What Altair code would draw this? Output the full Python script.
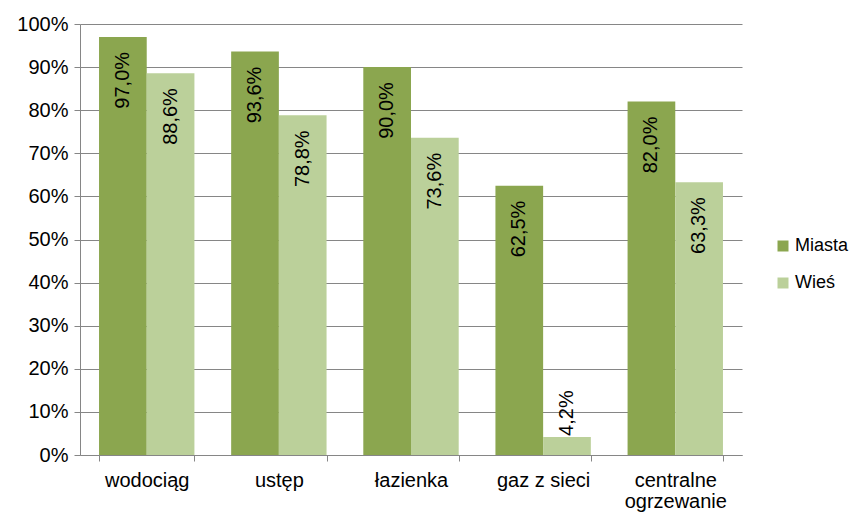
import altair as alt
import pandas as pd

categories = ["wodociąg", "ustęp", "łazienka", "gaz z sieci", "centralne ogrzewanie"]
miasta = [97.0, 93.6, 90.0, 62.5, 82.0]
wies = [88.6, 78.8, 73.6, 4.2, 63.3]
series = ["Miasta", "Wieś"]
colors = ["#8BA64F", "#BBD09A"]

rows = []
for c, m, w in zip(categories, miasta, wies):
    for s, v in zip(series, [m, w]):
        rows.append({"kat": c, "seria": s, "v": v / 100,
                     "lbl": f"{v:.1f}%".replace(".", ","),
                     "inside": v > 10})
df = pd.DataFrame(rows)

FONT = "Liberation Sans"
FS = 20
W, H = 662, 431

x = alt.X("kat:N", sort=categories, title=None,
          scale=alt.Scale(paddingInner=0.278, paddingOuter=0.144),
          axis=alt.Axis(labelAngle=0, labelFontSize=FS, labelColor="#000",
                        labelFont=FONT, domainColor="#868686", tickColor="#868686",
                        tickSize=6, tickBand="extent", labelPadding=9,
                        labelLineHeight=21,
                        labelExpr="length(datum.label) > 15 ? split(datum.label, ' ') : datum.label"))
xo = alt.XOffset("seria:N", sort=series)

base = alt.Chart(df).encode(x=x, xOffset=xo)

bars = base.mark_bar().encode(
    y=alt.Y("v:Q", scale=alt.Scale(domain=[0, 1]), title=None,
            axis=alt.Axis(format=".0%", values=[i / 10 for i in range(11)],
                          labelFontSize=FS, labelColor="#000", labelFont=FONT,
                          domainColor="#868686", tickColor="#868686", tickSize=6,
                          gridColor="#868686", labelPadding=6)),
    color=alt.Color("seria:N", sort=series,
                    scale=alt.Scale(domain=series, range=colors),
                    legend=alt.Legend(title=None, orient="none", legendX=694, legendY=213,
                                      symbolType="square", symbolSize=121,
                                      symbolStrokeWidth=0, labelFontSize=18,
                                      labelFont=FONT, labelColor="#000",
                                      rowPadding=19, labelOffset=3, padding=0,
                                      labelLimit=200)),
)

txt_in = base.transform_filter("datum.inside").mark_text(
    angle=270, align="right", baseline="middle", dx=-15, fontSize=FS, font=FONT, color="#000"
).encode(y="v:Q", text="lbl:N")

txt_out = base.transform_filter("!datum.inside").mark_text(
    angle=270, align="left", baseline="middle", dx=1, fontSize=FS, font=FONT, color="#000"
).encode(y="v:Q", text="lbl:N")

chart = alt.layer(bars, txt_in, txt_out).properties(
    width=W, height=H,
    autosize=alt.AutoSizeParams(type="none"),
    padding={"left": 72, "top": 16, "right": 110, "bottom": 60},
).configure_view(stroke=None).configure_axis(gridWidth=1)

chart.save("out.html", embed_options={"renderer": "svg", "actions": False})
